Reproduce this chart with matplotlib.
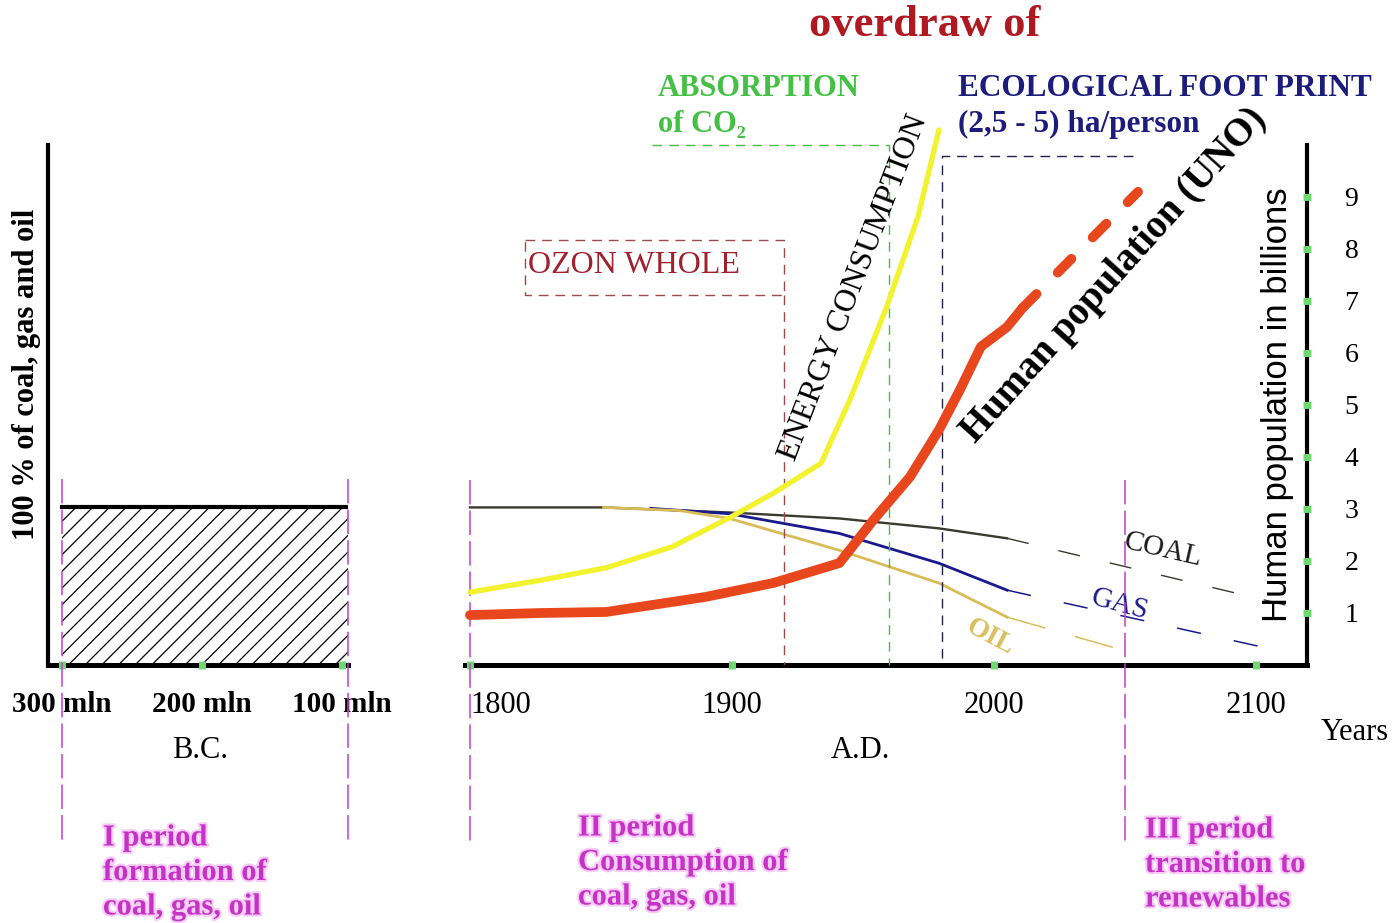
import matplotlib
matplotlib.use("Agg")
import matplotlib.pyplot as plt
import matplotlib.patheffects as pe

W, H, DPI = 1398, 923, 100
SERIF = ["Liberation Serif", "DejaVu Serif"]
SANS = ["Liberation Sans", "DejaVu Sans"]

# ---- data ----
bc_ticks = [300, 200, 100]
bc_tick_labels = ["300 mln", "200 mln", "100 mln"]
bc_stock_x = [300, 96]
bc_stock_pct = [100, 100]

year_ticks = [1800, 1900, 2000, 2100]
pop_ticks = [1, 2, 3, 4, 5, 6, 7, 8, 9]

coal_year = [1800, 1851, 1899, 1941, 1979, 2005]
coal_pct = [100, 100, 96.8, 93, 86.7, 80.4]
coal_proj_year = [2005, 2119]
coal_proj_pct = [80.4, 35]

gas_year = [1869, 1899, 1941, 1979, 2005]
gas_pct = [99.4, 96, 83.5, 64.6, 47.5]
gas_proj_year = [2005, 2104]
gas_proj_pct = [47.5, 10.8]

oil_year = [1851, 1880, 1899, 1941, 1979, 2005]
oil_pct = [100, 98, 93, 72.8, 52, 30.4]
oil_proj_year = [2005, 2049]
oil_proj_pct = [30.4, 9.5]

energy_year = [1800, 1827, 1852, 1877, 1899, 1916, 1934, 1945, 1959, 1971, 1979]
energy_val = [1.40, 1.63, 1.87, 2.27, 2.83, 3.31, 3.88, 5.10, 6.88, 8.62, 10.29]

pop_year = [1800, 1827, 1852, 1890, 1916, 1941, 1954, 1968, 1979, 1987, 1992, 1995, 2000, 2005, 2011]
pop_val = [0.96, 1.0, 1.02, 1.31, 1.58, 1.96, 2.79, 3.62, 4.52, 5.29, 5.81, 6.12, 6.31, 6.5, 6.87]
pop_proj_year = [2011, 2055]
pop_proj_val = [6.87, 9.1]

# threshold markers (year where the limit was crossed)
ozone_year, co2_year, footprint_year = 1920, 1960, 1980
period_bc = [300, 96]
period_ad = [1800, 2050]


def box(x0, y0, x1, y1):
    return [x0 / W, 1 - y1 / H, (x1 - x0) / W, (y1 - y0) / H]


def ftext(px, py, s, **kw):
    fig.text(px / W, 1 - py / H, s, **kw)


fig = plt.figure(figsize=(W / DPI, H / DPI), dpi=DPI)
plt.rcParams["hatch.linewidth"] = 0.9
TICK_GREEN = "#70d870"

# ---- left panel: B.C. ----
ax_bc = fig.add_axes(box(48, 145, 348, 665))
ax_bc.set_xlim(310, 95.7)
ax_bc.set_ylim(0, 330)
ax_bc.fill_between(bc_stock_x, 0, bc_stock_pct, facecolor="white",
                   edgecolor="black", hatch="//", lw=0)
ax_bc.plot(bc_stock_x, bc_stock_pct, color="black", lw=3)
for s in ["top", "right"]:
    ax_bc.spines[s].set_visible(False)
ax_bc.spines["bottom"].set_linewidth(3.6)
ax_bc.spines["left"].set_linewidth(3)
for s in ax_bc.spines.values():
    s.set_zorder(1)
ax_bc.set_yticks([])
ax_bc.set_xticks(bc_ticks, bc_tick_labels)
ax_bc.tick_params(axis="x", direction="inout", length=6, width=5,
                  color=TICK_GREEN, pad=16, labelsize=21)
for t in ax_bc.get_xticklabels():
    t.set_family(SERIF)
    t.set_fontweight("bold")
for x in period_bc:
    ax_bc.plot([x, x], [118, -113], color="#c040cc", lw=1.1,
               dashes=(16, 4), clip_on=False)

# ---- right panel: A.D. ----
ax = fig.add_axes(box(465, 145, 1307, 665))
ax.set_xlim(1798.1, 2119.5)
ax.set_ylim(0, 330)
ax_pop = ax.twinx()
ax_pop.set_ylim(0, 10)

for s in ["top", "left", "right"]:
    ax.spines[s].set_visible(False)
for s in ["top", "left", "bottom"]:
    ax_pop.spines[s].set_visible(False)
ax.spines["bottom"].set_linewidth(3.6)
ax.spines["bottom"].set_zorder(1)
ax_pop.spines["right"].set_linewidth(3)
ax_pop.spines["right"].set_zorder(1)

ax.set_yticks([])
ax.set_xticks(year_ticks, [str(y) for y in year_ticks])
ax.tick_params(axis="x", direction="inout", length=6, width=5,
               color=TICK_GREEN, pad=16, labelsize=22)
ax.get_xticklabels()[0].set_ha("left")
ax_pop.set_yticks(pop_ticks, [str(v) for v in pop_ticks])
ax_pop.tick_params(axis="y", direction="inout", length=6, width=5,
                   color=TICK_GREEN, pad=24, labelsize=20)
for t in ax.get_xticklabels() + ax_pop.get_yticklabels():
    t.set_family(SERIF)

# fossil fuel shares (percent scale)
ax.plot(coal_year, coal_pct, color="#3b3a30", lw=1.7)
ax.plot(coal_proj_year, coal_proj_pct, color="#3b3a30", lw=1, dashes=(16, 22))
ax.plot(gas_year, gas_pct, color="#1a1a8c", lw=2)
ax.plot(gas_proj_year, gas_proj_pct, color="#1a1a8c", lw=1.1, dashes=(16, 22))
ax.plot(oil_year, oil_pct, color="#d9bc58", lw=2)
ax.plot(oil_proj_year, oil_proj_pct, color="#d9bc58", lw=1.1, dashes=(26, 20))

ax.text(2064.5, 72.8, "COAL", rotation=-13, ha="center", va="center",
        fontsize=21, family=SERIF, color="#1a1a1a")
ax.text(2048, 38, "GAS", rotation=-15, ha="center", va="center",
        fontsize=21, family=SERIF, color="#1a1a8c")
ax.text(1998.5, 17.7, "OIL", rotation=-28, ha="center", va="center",
        fontsize=20, family=SERIF, fontweight="bold", color="#d9c060")

# limits that were overdrawn
ax_pop.plot([1821, ozone_year, ozone_year, 1821, 1821], [8.17, 8.17, 7.12, 7.12, 8.17],
            color="#9a4a4a", lw=1, dashes=(7, 5))
ax_pop.plot([ozone_year, ozone_year], [7.12, 0], color="#9a4a4a", lw=1, dashes=(7, 5))
ax_pop.plot([1869.5, co2_year, co2_year], [10, 10, 0], color="#44c044", lw=1,
            dashes=(7, 5), clip_on=False)
ax_pop.plot([2053, footprint_year, footprint_year], [9.79, 9.79, 0], color="#202048",
            lw=1, dashes=(7, 5))
ax_pop.text(1822, 7.68, "OZON WHOLE", ha="left", va="center", fontsize=23,
            family=SERIF, color="#a0202c")

for x in period_ad:
    ax_pop.plot([x, x], [3.56, -3.46], color="#c040cc", lw=1.1,
                dashes=(16, 4), clip_on=False)

# energy consumption and population
ax_pop.plot(energy_year, energy_val, color="#f2f22e", lw=3.8, clip_on=False,
            solid_capstyle="round", solid_joinstyle="round")
ax_pop.plot(pop_year, pop_val, color="#e8461c", lw=7, solid_capstyle="round",
            solid_joinstyle="round")
ax_pop.plot(pop_proj_year, pop_proj_val, color="#e8461c", lw=7,
            dashes=(2.0, 3.1), dash_capstyle="round")

ax_pop.text(1946.5, 7.25, "ENERGY CONSUMPTION", rotation=69, ha="center",
            va="center", fontsize=23, family=SERIF, rotation_mode="anchor")
ax_pop.text(2046, 7.5, "Human population (UNO)", rotation=48, ha="center",
            va="center", fontsize=28, family=SERIF, fontweight="bold",
            rotation_mode="anchor")
ax_pop.text((1277 - 465) / 842, 0.5, "Human population in billions",
            transform=ax_pop.transAxes, rotation=90, ha="center", va="center",
            fontsize=25, family=SANS)

# ---- free text ----
ftext(925, 25, "overdraw of", ha="center", va="center", fontsize=32,
      family=SERIF, fontweight="bold", color="#b01822")
ftext(658, 88, "ABSORPTION", ha="left", va="center", fontsize=22,
      family=SERIF, fontweight="bold", color="#44c044")
ftext(658, 124, "of CO\u2082", ha="left", va="center", fontsize=22,
      family=SERIF, fontweight="bold", color="#44c044")
ftext(958, 88, "ECOLOGICAL FOOT PRINT", ha="left", va="center", fontsize=22.5,
      family=SERIF, fontweight="bold", color="#1c1c7c")
ftext(958, 124, "(2,5 - 5) ha/person", ha="left", va="center", fontsize=22.5,
      family=SERIF, fontweight="bold", color="#1c1c7c")
ftext(27, 374, "100 % of coal, gas and oil", rotation=90, ha="center",
      va="center", fontsize=22, family=SERIF, fontweight="bold")
ftext(200, 750, "B.C.", ha="center", va="center", fontsize=22, family=SERIF)
ftext(860, 750, "A.D.", ha="center", va="center", fontsize=22, family=SERIF)
ftext(1355, 732, "Years", ha="center", va="center", fontsize=22, family=SERIF)

glow = [pe.withStroke(linewidth=3, foreground="#f6cdf6")]
periods = [
    (103, 838, ["I period", "formation of", "coal, gas, oil"]),
    (578, 828, ["II period", "Consumption of", "coal, gas, oil"]),
    (1145, 830, ["III period", "transition to", "renewables"]),
]
for px, py, lines in periods:
    for i, line in enumerate(lines):
        ftext(px, py + 34.5 * i, line, ha="left", va="center", fontsize=22,
              family=SERIF, fontweight="bold", color="#c631c6", path_effects=glow)

fig.savefig("out.png", dpi=DPI)
